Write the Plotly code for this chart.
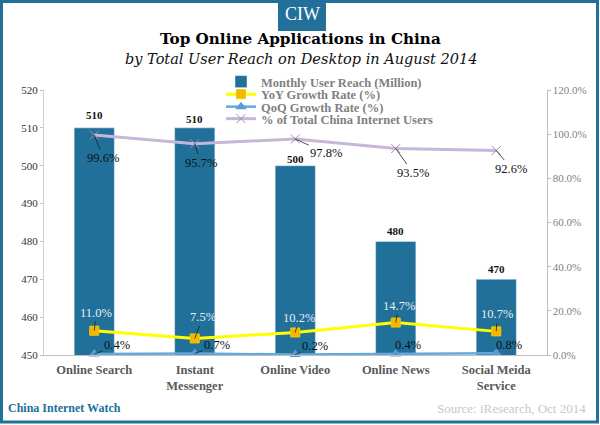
import plotly.graph_objects as go

categories = ["Online Search", "Instant<br>Messenger", "Online Video", "Online News", "Social Meida<br>Service"]
user_reach = [510, 510, 500, 480, 470]
yoy_growth = [11.0, 7.5, 10.2, 14.7, 10.7]
qoq_growth = [0.4, 0.7, 0.2, 0.4, 0.8]
share_total = [99.6, 95.7, 97.8, 93.5, 92.6]

# label offsets in pixels (text centre relative to the point)
reach_shift = [13, 9, 7, 10, 10]
share_offset = [(9, 23), (6, 19), (31, 14), (17, 24), (15, 18)]
yoy_offset = [(2, -18), (8, -21), (4, -14), (3, -17), (1, -17)]
qoq_offset = [(23, -9), (22, -8), (20, -9), (12, -9), (13, -8)]

BLUE = "#20709a"
W, H = 600, 425


def px(x):
    return x / W


def py(y):
    return 1 - y / H


fig = go.Figure()
fig.add_trace(go.Bar(x=categories, y=user_reach, name="Monthly User Reach (Million)",
                     marker_color=BLUE, width=0.4, legend="legend", showlegend=True))
fig.add_trace(go.Scatter(x=categories, y=yoy_growth, name="YoY Growth Rate (%)", yaxis="y2", legend="legend2",
                         mode="lines+markers", line=dict(color="#ffff00", width=3),
                         marker=dict(symbol="square", size=9, color="#f7b500",
                                     line=dict(color="#e8d000", width=1))))
fig.add_trace(go.Scatter(x=categories, y=qoq_growth, name="QoQ Growth Rate (%)", yaxis="y2", legend="legend3",
                         mode="lines+markers", line=dict(color="#62a9de", width=2.5), cliponaxis=False,
                         marker=dict(symbol="triangle-up", size=10, color="#5b9bd5")))
fig.add_trace(go.Scatter(x=categories, y=share_total, name="% of Total China Internet Users", yaxis="y2", legend="legend4",
                         mode="lines+markers", line=dict(color="#c6b7d8", width=3),
                         marker=dict(symbol="x-thin", size=9, line=dict(color="#a08fb5", width=1))))

# Beschriftungen
serif = "Liberation Serif"
for cat, val, shift in zip(categories, user_reach, reach_shift):
    fig.add_annotation(x=cat, y=val, text=f"<b>{val}</b>", showarrow=False, yshift=shift,
                       font=dict(family=serif, size=11, color="#111111"))
for cat, val, off in zip(categories, share_total, share_offset):
    fig.add_annotation(x=cat, y=val, yref="y2", text=f"{val:.1f}%", ax=off[0], ay=off[1],
                       arrowwidth=0.8, arrowcolor="#222222", arrowhead=0, standoff=0,
                       font=dict(family=serif, size=12.5, color="#111111"))
for cat, val, off in zip(categories, yoy_growth, yoy_offset):
    fig.add_annotation(x=cat, y=val, yref="y2", text=f"{val:.1f}%", ax=off[0], ay=off[1],
                       arrowwidth=0.8, arrowcolor="#222222", arrowhead=0, standoff=0,
                       font=dict(family=serif, size=12.5, color="#e8eef2"))
for cat, val, off in zip(categories, qoq_growth, qoq_offset):
    fig.add_annotation(x=cat, y=val, yref="y2", text=f"{val:.1f}%", ax=off[0], ay=off[1],
                       arrowwidth=0.8, arrowcolor="#222222", arrowhead=0, standoff=0,
                       font=dict(family=serif, size=12.5, color="#111111"))

# Titel und Fusszeile
fig.add_annotation(xref="paper", yref="paper", x=px(300), y=py(39), yanchor="middle",
                   text="<b>Top Online Applications in China</b>",
                   showarrow=False, font=dict(family="DejaVu Serif", size=15.2, color="#000000"))
fig.add_annotation(xref="paper", yref="paper", x=px(301), y=py(59), yanchor="middle",
                   text="<i>by Total User Reach on Desktop in August 2014</i>",
                   showarrow=False, font=dict(family="DejaVu Serif", size=14.5, color="#111111"))
fig.add_annotation(xref="paper", yref="paper", x=px(302), y=py(14), yanchor="middle", text="CIW",
                   showarrow=False, font=dict(family=serif, size=18, color="#ffffff"))
fig.add_annotation(xref="paper", yref="paper", x=px(6), y=py(408), xanchor="left", yanchor="middle",
                   text="<b>China Internet Watch</b>",
                   showarrow=False, font=dict(family=serif, size=12, color=BLUE))
fig.add_annotation(xref="paper", yref="paper", x=px(588), y=py(408), xanchor="right", yanchor="middle",
                   text="Source: iResearch, Oct 2014",
                   showarrow=False, font=dict(family=serif, size=13, color="#c8c8c8"))


def legend_row(top):
    return dict(x=px(221), y=py(top), xanchor="left", yanchor="top", bgcolor="rgba(0,0,0,0)",
                font=dict(family=serif, size=12.5, color="#7f7f7f", weight="bold"))


fig.update_layout(
    width=W, height=H, margin=dict(l=0, r=0, t=0, b=0),
    paper_bgcolor="white", plot_bgcolor="white", showlegend=True,
    font=dict(family=serif, color="#595959", size=11),
    shapes=[
        dict(type="rect", xref="paper", yref="paper", x0=px(1.5), x1=px(597.5), y0=py(1.5), y1=py(422),
             line=dict(color=BLUE, width=3)),
        dict(type="rect", xref="paper", yref="paper", x0=px(278), x1=px(326), y0=py(0), y1=py(31),
             fillcolor=BLUE, line=dict(width=0)),
    ],
    xaxis=dict(domain=[px(44), px(546.5)], automargin=False, showline=True, linecolor="#bfbfbf", ticks="",
               ticklabelstandoff=3, tickfont=dict(family=serif, size=12.5, color="#595959", weight="bold")),
    yaxis=dict(domain=[py(355), py(90)], range=[450, 520], dtick=10, automargin=False, showgrid=False,
               zeroline=False, showline=True, linecolor="#d0d0d0", ticks="outside", ticklen=3,
               tickcolor="#bfbfbf", tickfont=dict(size=11, color="#333333")),
    yaxis2=dict(overlaying="y", side="right", anchor="x", range=[0, 120], dtick=20, automargin=False,
                showgrid=False, zeroline=False, showline=True, linecolor="#bfbfbf", ticks="outside",
                ticklen=3, tickcolor="#bfbfbf", ticksuffix=".0%", tickfont=dict(size=11, color="#7f7f7f")),
    legend=legend_row(67),
    legend2=legend_row(79.5),
    legend3=legend_row(92),
    legend4=legend_row(104),
)

# sonst verschiebt der Browser-Rand alles um 8px
fig.write_html("out.html", config=dict(displayModeBar=False), post_script="document.body.style.margin='0';")
